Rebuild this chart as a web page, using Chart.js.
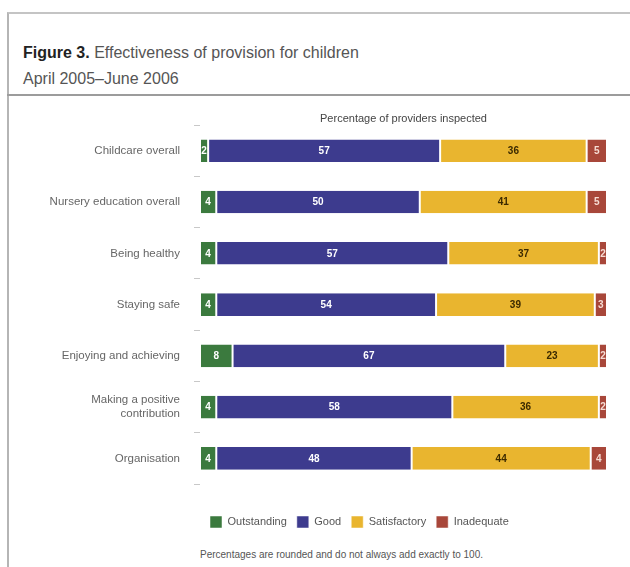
<!DOCTYPE html>
<html>
<head>
<meta charset="utf-8">
<script src="https://cdn.jsdelivr.net/npm/chart.js@4"></script>
<style>
  body { margin: 0; width: 630px; height: 567px; background: #fff; position: relative; overflow: hidden; font-family: "Liberation Sans", Arial, sans-serif; }
  .frame { position: absolute; left: 7px; top: 12px; right: -2px; bottom: -2px; border-left: 2px solid #b5b5b5; border-top: 2px solid #c4c4c4; }
  .sep { position: absolute; left: 7px; right: 0; top: 94px; height: 2px; background: #9c9c9c; }
  .title { position: absolute; left: 23px; top: 40px; font-size: 16px; line-height: 26px; color: #555; }
  .title b { color: #222; }
  .chartBox { position: absolute; left: 10px; top: 100px; width: 600px; height: 438px; }
  .note { position: absolute; left: 200px; top: 549px; font-size: 10px; color: #555; }
</style>
</head>
<body>
<div class="frame"></div>
<div class="sep"></div>
<div class="title"><b>Figure 3.</b> Effectiveness of provision for children<br>April 2005–June 2006</div>
<div class="chartBox"><canvas id="myChart"></canvas></div>
<div class="note">Percentages are rounded and do not always add exactly to 100.</div>

<script>
// catégories et valeurs (en %)
const categories = [
    'Childcare overall',
    'Nursery education overall',
    'Being healthy',
    'Staying safe',
    'Enjoying and achieving',
    ['Making a positive', 'contribution'],
    'Organisation'
];
const outstanding = [2, 4, 4, 4, 8, 4, 4];
const good = [57, 50, 57, 54, 67, 58, 48];
const satisfactory = [36, 41, 37, 39, 23, 36, 44];
const inadequate = [5, 5, 2, 3, 2, 2, 4];

const seriesNames = ['Outstanding', 'Good', 'Satisfactory', 'Inadequate'];
const seriesColors = ['#3b7a3e', '#3d3b8e', '#e9b52f', '#a8473a'];
const labelColors = ['#ffffff', '#ffffff', '#3b2a00', '#f6dcd4'];

// afficher les valeurs au centre de chaque segment
const valueLabels = {
    id: 'valueLabels',
    afterDatasetsDraw(chart) {
        const ctx = chart.ctx;
        ctx.save();
        ctx.font = 'bold 10px "Liberation Sans", Arial, sans-serif';
        ctx.textAlign = 'center';
        ctx.textBaseline = 'middle';
        chart.data.datasets.forEach((ds, i) => {
            chart.getDatasetMeta(i).data.forEach((bar, j) => {
                const p = bar.getProps(['x', 'y', 'base'], true);
                ctx.fillStyle = labelColors[i];
                ctx.fillText(ds.data[j], (p.x + p.base) / 2, p.y + 0.5);
            });
        });
        ctx.restore();
    }
};

let ctx = document.getElementById('myChart').getContext('2d');
let myChart = new Chart(ctx, {
    type: 'bar',
    data: {
        labels: categories,
        datasets: [outstanding, good, satisfactory, inadequate].map((values, i) => ({
            label: seriesNames[i],
            data: values,
            backgroundColor: seriesColors[i],
            borderColor: '#ffffff',
            borderWidth: {left: 1, right: 1, top: 0, bottom: 0},
            borderSkipped: false,
            categoryPercentage: 1,
            barPercentage: 0.44
        }))
    },
    options: {
        indexAxis: 'y',
        responsive: true,
        maintainAspectRatio: false,
        animation: false,
        layout: { padding: { top: 12, right: 3, left: 0, bottom: 0 } },
        scales: {
            x: {
                stacked: true,
                min: 0,
                max: 100,
                ticks: { display: false },
                grid: { display: false },
                border: { display: false },
                afterFit: axis => { axis.height = 22; }
            },
            y: {
                stacked: true,
                grid: { offset: true, drawOnChartArea: false, tickLength: 6, color: '#c8c8c8' },
                border: { display: false },
                ticks: { padding: 14, color: '#666', font: { size: 11.5, family: '"Liberation Sans", Arial, sans-serif' } },
                afterFit: axis => { axis.width = 190; }
            }
        },
        plugins: {
            title: {
                display: true,
                fullSize: false,
                text: 'Percentage of providers inspected',
                color: '#444',
                font: { size: 11, weight: 'normal', family: '"Liberation Sans", Arial, sans-serif' },
                padding: 0
            },
            legend: {
                position: 'bottom',
                align: 'start',
                fullSize: false,
                labels: {
                    boxWidth: 12,
                    boxHeight: 12,
                    padding: 10,
                    color: '#555',
                    font: { size: 11, family: '"Liberation Sans", Arial, sans-serif' }
                }
            },
            tooltip: { enabled: false }
        }
    },
    plugins: [valueLabels]
});
</script>
</body>
</html>
